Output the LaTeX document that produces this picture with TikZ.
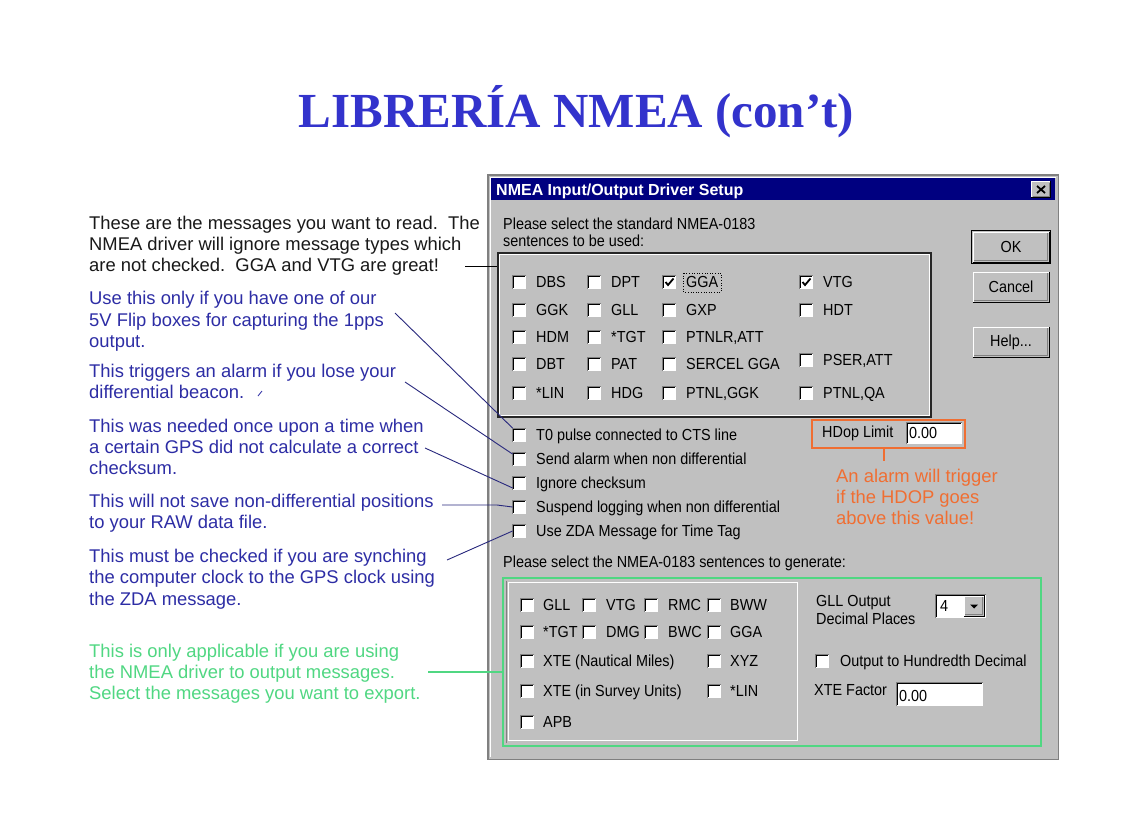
\documentclass[tikz,border=0pt]{standalone}
\usepackage{fontspec}
\setmainfont{Liberation Sans}
\newfontfamily\titlefont{Liberation Serif}
\newfontfamily\dlgfont[FakeStretch=0.9]{Liberation Sans}
\definecolor{dlg}{RGB}{192,192,192}
\definecolor{navy}{RGB}{0,0,128}
\definecolor{ttl}{RGB}{51,51,204}
\definecolor{annb}{RGB}{45,45,165}
\definecolor{annk}{RGB}{25,25,25}
\definecolor{anng}{RGB}{80,215,130}
\definecolor{orng}{RGB}{240,110,50}
\definecolor{dkg}{RGB}{128,128,128}
\definecolor{lnb}{RGB}{40,40,125}
\tikzset{
  ann/.style={anchor=base west, inner sep=0, font=\fontsize{18.4}{22}\selectfont},
  dt/.style={anchor=west, inner sep=0, text height=11.5pt, text depth=0pt, font=\dlgfont\fontsize{16}{19}\selectfont},
  cbox/.style={fill=white, minimum size=13.5pt, inner sep=0},
  btn/.style={fill=dlg, minimum width=76pt, minimum height=30pt, inner sep=0, font=\dlgfont\fontsize{16}{19}\selectfont},
  conn/.style={draw=lnb, line width=0.9pt},
}
\newcommand\sunk[1]{%
  \draw[dkg,line width=1pt] (#1.south west) -- (#1.north west) -- (#1.north east);
  \draw[black,line width=1pt] ([shift={(1pt,1pt)}]#1.south west) -- ([shift={(1pt,-1pt)}]#1.north west) -- ([shift={(-1pt,-1pt)}]#1.north east);}
\newcommand\raised[1]{%
  \draw[white,line width=1pt] ([shift={(0.5pt,0.5pt)}]#1.south west) -- ([shift={(0.5pt,-0.5pt)}]#1.north west) -- ([shift={(-0.5pt,-0.5pt)}]#1.north east);
  \draw[black,line width=1pt] (#1.north east) -- (#1.south east) -- (#1.south west);
  \draw[dkg,line width=1pt] ([shift={(-1.5pt,-1.5pt)}]#1.north east) -- ([shift={(-1.5pt,1.5pt)}]#1.south east) -- ([shift={(1.5pt,1.5pt)}]#1.south west);}
\newcommand\cbx[3]{\node[cbox] (#1) at (#2,#3) {};\sunk{#1}}
\newcommand\cbl[5]{\cbx{#1}{#2}{#3}\node[dt] (#1l) at (#4,#3) {#5};}
\newcommand\tick[1]{\draw[black,line width=1.8pt,shift={(#1.center)}] (-4,0) -- (-1.5,3) -- (4,-3.5);}
\begin{document}
\begin{tikzpicture}[x=1pt,y=-1pt]
\fill[white] (0,0) rectangle (1123,835);
\useasboundingbox (0,0) rectangle (1123,835);

% title
\node[anchor=base, inner sep=0, text=ttl, font=\titlefont\bfseries\fontsize{49}{55}\selectfont] (title) at (576.5,127) {LIBRERÍA NMEA (con’t)};

% dialog
\node[fill=dlg, anchor=north west, minimum width=570pt, minimum height=584pt, inner sep=0] (dlgbox) at (488,175) {};
\draw[dkg, line width=1.5pt] (dlgbox.south west) rectangle (dlgbox.north east);
\draw[white, line width=1pt] ([shift={(2pt,2pt)}]dlgbox.south west) -- ([shift={(2pt,-2pt)}]dlgbox.north west) -- ([shift={(-2pt,-2pt)}]dlgbox.north east);
\node[fill=navy, anchor=north west, minimum width=564pt, minimum height=22pt, inner sep=0] (tbar) at (491,178) {};
\node[anchor=west, text=white, font=\bfseries\fontsize{16}{18}\selectfont, inner sep=0, text height=11.5pt, text depth=0pt] (ttxt) at (496,189.5) {NMEA Input/Output Driver Setup};
\node[fill=dlg, minimum width=19pt, minimum height=16pt, inner sep=0] (close) at (1041,189.5) {};
\raised{close}
\draw[black, line width=1.8pt, shift={(close.center)}] (-4,-3.5) -- (4,3.5) (-4,3.5) -- (4,-3.5);

\node[dt] (p1) at (503,224) {Please select the standard NMEA-0183};
\node[dt] (p2) at (503,241) {sentences to be used:};

% buttons
\node[btn] (ok) at (1011,247) {OK};
\raised{ok}
\draw[black, line width=1pt] ([shift={(-1pt,-1pt)}]ok.south west) rectangle ([shift={(1pt,1pt)}]ok.north east);
\node[btn] (cancel) at (1011,287) {Cancel};
\raised{cancel}
\node[btn] (help) at (1011,342) {Help...};
\raised{help}

% group 1
\node[anchor=north west, minimum width=433pt, minimum height=164pt, inner sep=0, draw=black!85, line width=1.5pt] (grp1) at (497,252) {};
\draw[white, line width=1pt] ([shift={(2.5pt,-2.5pt)}]grp1.north west) rectangle ([shift={(-2.5pt,2.5pt)}]grp1.south east);

\cbl{t1}{519.5}{282}{536}{DBS}
\cbl{t2}{519.5}{310}{536}{GGK}
\cbl{t3}{519.5}{337}{536}{HDM}
\cbl{t4}{519.5}{364}{536}{DBT}
\cbl{t5}{519.5}{393}{536}{*LIN}
\cbl{t6}{594.5}{282}{611}{DPT}
\cbl{t7}{594.5}{310}{611}{GLL}
\cbl{t8}{594.5}{337}{611}{*TGT}
\cbl{t9}{594.5}{364}{611}{PAT}
\cbl{t10}{594.5}{393}{611}{HDG}
\cbl{t11}{669.5}{282}{686}{GGA}
\cbl{t12}{669.5}{310}{686}{GXP}
\cbl{t13}{669.5}{337}{686}{PTNLR,ATT}
\cbl{t14}{669.5}{364}{686}{SERCEL GGA}
\cbl{t15}{669.5}{393}{686}{PTNL,GGK}
\cbl{t16}{806.5}{282}{823}{VTG}
\cbl{t17}{806.5}{310}{823}{HDT}
\cbl{t18}{806.5}{360}{823}{PSER,ATT}
\cbl{t19}{806.5}{393}{823}{PTNL,QA}
\tick{t11}
\tick{t16}
\draw[black, line width=0.6pt, dotted] ([shift={(-2.5pt,3pt)}]t11l.north west) rectangle ([shift={(2.5pt,-4pt)}]t11l.south east);

% options
\cbl{o1}{519.5}{435}{536}{T0 pulse connected to CTS line}
\cbl{o2}{519.5}{459}{536}{Send alarm when non differential}
\cbl{o3}{519.5}{483}{536}{Ignore checksum}
\cbl{o4}{519.5}{507}{536}{Suspend logging when non differential}
\cbl{o5}{519.5}{531}{536}{Use ZDA Message for Time Tag}

% HDop
\node[anchor=north west, minimum width=153pt, minimum height=28pt, draw=orng, line width=1.5pt, inner sep=0] (hbox) at (811,419) {};
\node[dt] (hlab) at (822,432) {HDop Limit};
\node[anchor=north west, fill=white, minimum width=56pt, minimum height=22pt, inner sep=0] (hfield) at (906,422) {};
\sunk{hfield}
\node[dt] (hval) at (909,433) {0.00};
\coordinate (hl) at (884,461);
\draw[orng, line width=1.5pt] (hl |- hbox.south) -- (hl);
\node[ann, text=orng] (h1) at (836,482) {An alarm will trigger};
\node[ann, text=orng] (h2) at (836,503) {if the HDOP goes};
\node[ann, text=orng] (h3) at (836,524) {above this value!};

% lower group
\node[dt] (p3) at (503,562) {Please select the NMEA-0183 sentences to generate:};
\node[anchor=north west, minimum width=289pt, minimum height=158pt, inner sep=0, draw=white, line width=1pt] (grp2) at (508,582) {};
\draw[dkg, line width=1pt] ([shift={(-1.5pt,1.5pt)}]grp2.north west) -- ([shift={(-1.5pt,-1.5pt)}]grp2.south west);
\node[anchor=north west, minimum width=538pt, minimum height=168pt, inner sep=0, draw=anng, line width=2pt] (grn) at (502,577) {};

\cbl{g1}{527.5}{605}{543}{GLL}
\cbl{g2}{589.5}{605}{606}{VTG}
\cbl{g3}{651.5}{605}{668}{RMC}
\cbl{g4}{714.5}{605}{730}{BWW}
\cbl{g5}{527.5}{632}{543}{*TGT}
\cbl{g6}{589.5}{632}{606}{DMG}
\cbl{g7}{651.5}{632}{668}{BWC}
\cbl{g8}{714.5}{632}{730}{GGA}
\cbl{g9}{527.5}{661}{543}{XTE (Nautical Miles)}
\cbl{g10}{714.5}{661}{730}{XYZ}
\cbl{g11}{527.5}{691}{543}{XTE (in Survey Units)}
\cbl{g12}{714.5}{691}{730}{*LIN}
\cbl{g13}{527.5}{722}{543}{APB}

\node[dt] (gllo) at (816,601) {GLL Output};
\node[dt] (decp) at (816,619) {Decimal Places};
\node[anchor=north west, fill=white, minimum width=51pt, minimum height=24pt, inner sep=0] (dd) at (935,594) {};
\sunk{dd}
\node[dt] (ddv) at (940,606) {4};
\node[fill=dlg, minimum width=20pt, minimum height=20pt, inner sep=0] (ddb) at (974,606) {};
\raised{ddb}
\fill[black, shift={(ddb.center)}] (-4,-1.5) -- (4,-1.5) -- (0,2.5) -- cycle;
\cbl{hund}{822.5}{661}{840}{Output to Hundredth Decimal}
\node[dt] (xtel) at (814,690) {XTE Factor};
\node[anchor=north west, fill=white, minimum width=87pt, minimum height=24pt, inner sep=0] (xf) at (896,682) {};
\sunk{xf}
\node[dt] (xfv) at (899,696) {0.00};

% annotations
\node[ann, text=annk] (a1) at (89,229) {These are the messages you want to read.\ \ The};
\node[ann, text=annk] (a2) at (89,250) {NMEA driver will ignore message types which};
\node[ann, text=annk] (a3) at (89,271) {are not checked.\ \ GGA and VTG are great!};
\node[ann, text=annb] (b1) at (89,304) {Use this only if you have one of our};
\node[ann, text=annb] (b2) at (89,326) {5V Flip boxes for capturing the 1pps};
\node[ann, text=annb] (b3) at (89,347) {output.};
\node[ann, text=annb] (b4) at (89,377) {This triggers an alarm if you lose your};
\node[ann, text=annb] (b5) at (89,398) {differential beacon.};
\node[ann, text=annb] (b6) at (89,432) {This was needed once upon a time when};
\node[ann, text=annb] (b7) at (89,453) {a certain GPS did not calculate a correct};
\node[ann, text=annb] (b8) at (89,474) {checksum.};
\node[ann, text=annb] (b9) at (89,507) {This will not save non-differential positions};
\node[ann, text=annb] (b10) at (89,528) {to your RAW data file.};
\node[ann, text=annb] (b11) at (89,562) {This must be checked if you are synching};
\node[ann, text=annb] (b12) at (89,583) {the computer clock to the GPS clock using};
\node[ann, text=annb] (b13) at (89,605) {the ZDA message.};
\node[ann, text=anng] (n1) at (89,657) {This is only applicable if you are using};
\node[ann, text=anng] (n2) at (89,678) {the NMEA driver to output messages.};
\node[ann, text=anng] (n3) at (89,699) {Select the messages you want to export.};
\draw[annb, line width=0.8pt] (258,396) -- (262,391);

% connectors
\coordinate (c0) at (465,266);
\draw[black, line width=1pt] (c0) -- (c0 -| grp1.west);
\coordinate (c1) at (395,313);
\draw[conn] (c1) -- (o1.north west);
\coordinate (c2) at (405,382);
\draw[conn] (c2) -- ([yshift=-2pt]o2.north west);
\coordinate (c3) at (425,448);
\draw[conn] (c3) -- ([yshift=2pt]o3.south west);
\coordinate (c4) at (442,505);
\coordinate (c4b) at (497,505);
\draw[conn] (c4) -- (c4b) -- (o4.west);
\coordinate (c5) at (447,560);
\draw[conn] (c5) -- (o5.west);
\coordinate (c6) at (428,672);
\draw[anng, line width=1.2pt] (c6) -- (c6 -| grn.west);
\end{tikzpicture}
\end{document}
